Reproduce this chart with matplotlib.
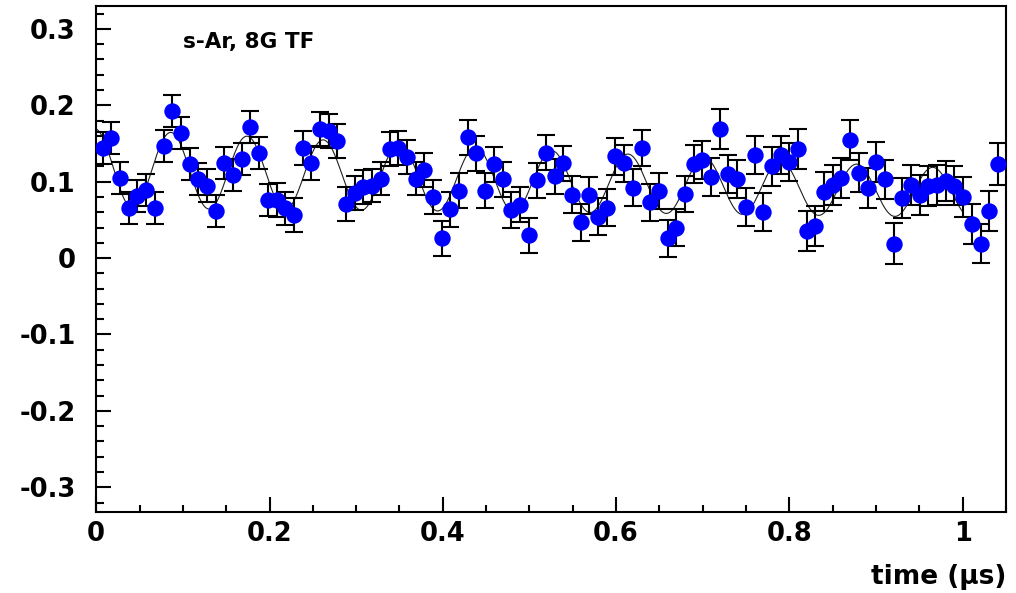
import numpy as np
import matplotlib
matplotlib.use("Agg")
import matplotlib.pyplot as plt
from matplotlib.ticker import MultipleLocator, FixedLocator

# ---------------- data ----------------
n_bins = 104
hist_lo = 0.0025          # first bin lower edge (µs)
bin_width = 0.01003       # bin width (µs)

asym = [0.144, 0.157, 0.105, 0.066, 0.081, 0.089, 0.066, 0.147, 0.192, 0.164,
        0.123, 0.104, 0.095, 0.062, 0.124, 0.109, 0.130, 0.171, 0.138, 0.076,
        0.076, 0.065, 0.056, 0.144, 0.124, 0.169, 0.166, 0.153, 0.071, 0.085,
        0.093, 0.095, 0.104, 0.143, 0.144, 0.132, 0.104, 0.115, 0.080, 0.026,
        0.064, 0.088, 0.158, 0.137, 0.088, 0.123, 0.103, 0.063, 0.070, 0.030,
        0.102, 0.138, 0.107, 0.124, 0.083, 0.047, 0.082, 0.054, 0.066, 0.133,
        0.124, 0.092, 0.144, 0.073, 0.088, 0.026, 0.040, 0.084, 0.123, 0.128,
        0.106, 0.169, 0.110, 0.104, 0.067, 0.135, 0.060, 0.120, 0.135, 0.126,
        0.143, 0.035, 0.042, 0.087, 0.096, 0.105, 0.155, 0.112, 0.092, 0.126,
        0.103, 0.019, 0.079, 0.096, 0.083, 0.094, 0.096, 0.101, 0.095, 0.080,
        0.045, 0.019, 0.062, 0.123]

asym_err = [0.021, 0.021, 0.021, 0.021, 0.021, 0.021, 0.021, 0.021, 0.021, 0.021,
            0.021, 0.021, 0.021, 0.021, 0.021, 0.021, 0.021, 0.021, 0.021, 0.021,
            0.022, 0.022, 0.022, 0.022, 0.022, 0.022, 0.022, 0.022, 0.022, 0.022,
            0.022, 0.022, 0.022, 0.022, 0.022, 0.022, 0.022, 0.022, 0.022, 0.023,
            0.023, 0.023, 0.023, 0.023, 0.023, 0.023, 0.023, 0.023, 0.023, 0.023,
            0.023, 0.023, 0.023, 0.023, 0.024, 0.024, 0.024, 0.024, 0.024, 0.024,
            0.024, 0.024, 0.024, 0.024, 0.024, 0.024, 0.024, 0.024, 0.025, 0.025,
            0.025, 0.026, 0.025, 0.025, 0.025, 0.025, 0.025, 0.025, 0.025, 0.025,
            0.026, 0.026, 0.026, 0.026, 0.026, 0.026, 0.026, 0.026, 0.026, 0.026,
            0.026, 0.027, 0.026, 0.026, 0.026, 0.026, 0.026, 0.026, 0.026, 0.026,
            0.026, 0.026, 0.026, 0.027]

# fit function parameters (muonium precession)
fit_offset = 0.1173
fit_slope = -0.0321
fit_amp = 0.0521
fit_relax = 0.49        # 1/µs
fit_freq = 11.37        # MHz
fit_phase = 0.129       # rad
fit_range = (0.0, 1.0)

x_major = [0, 0.2, 0.4, 0.6, 0.8, 1.0]
x_labels = ["0", "0.2", "0.4", "0.6", "0.8", "1"]
y_major = [-0.3, -0.2, -0.1, 0.0, 0.1, 0.2, 0.3]
y_labels = ["-0.3", "-0.2", "-0.1", "0", "0.1", "0.2", "0.3"]
label_text = "s-Ar, 8G TF"
x_title = "time (µs)"

# ---------------- plot ----------------
plt.rcParams["font.family"] = ["DejaVu Sans"]
plt.rcParams["font.weight"] = "bold"
plt.rcParams["axes.unicode_minus"] = False

fig = plt.figure(figsize=(10.16, 5.93), dpi=100)
ax = fig.add_axes([0.0947, 0.1371, 0.8955, 0.8528])

t = hist_lo + bin_width * (np.arange(n_bins) + 0.5)

tf = np.linspace(fit_range[0], fit_range[1], 1200)
yf = (fit_offset + fit_slope * tf
      + fit_amp * np.exp(-fit_relax * tf) * np.cos(2 * np.pi * fit_freq * tf + fit_phase))
ax.plot(tf, yf, color="#202020", lw=0.8, zorder=2)

ax.errorbar(t, asym, yerr=asym_err, fmt="none", ecolor="black",
            elinewidth=1.5, capsize=6.2, capthick=1.5, zorder=3)
ax.plot(t, asym, "o", color="#0000ff", markersize=11.8, markeredgewidth=0, zorder=4)

ax.set_xlim(0, 1.05)
ax.set_ylim(-0.332, 0.330)

ax.xaxis.set_major_locator(FixedLocator(x_major))
ax.set_xticklabels(x_labels)
ax.xaxis.set_minor_locator(MultipleLocator(0.05))
ax.yaxis.set_major_locator(FixedLocator(y_major))
ax.set_yticklabels(y_labels)
ax.yaxis.set_minor_locator(MultipleLocator(0.02))

ax.tick_params(which="both", direction="in", top=False, right=False, width=1.5,
               labelsize=18.5)
ax.tick_params(which="major", length=10.8)
ax.tick_params(which="minor", length=5.4)
ax.tick_params(axis="x", which="major", pad=7)
ax.tick_params(axis="y", which="major", pad=15)
for lab in ax.get_xticklabels() + ax.get_yticklabels():
    lab.set_fontweight("bold")

for sp in ax.spines.values():
    sp.set_linewidth(1.5)

ax.text(0.1003, 0.2747, label_text, fontsize=15.5, fontweight="bold",
        ha="left", va="baseline")

fig.text(1006 / 1016, 1 - 577 / 593, x_title, fontsize=19, fontweight="bold",
         ha="right", va="center")

fig.savefig("out.png", dpi=100, facecolor="white")
